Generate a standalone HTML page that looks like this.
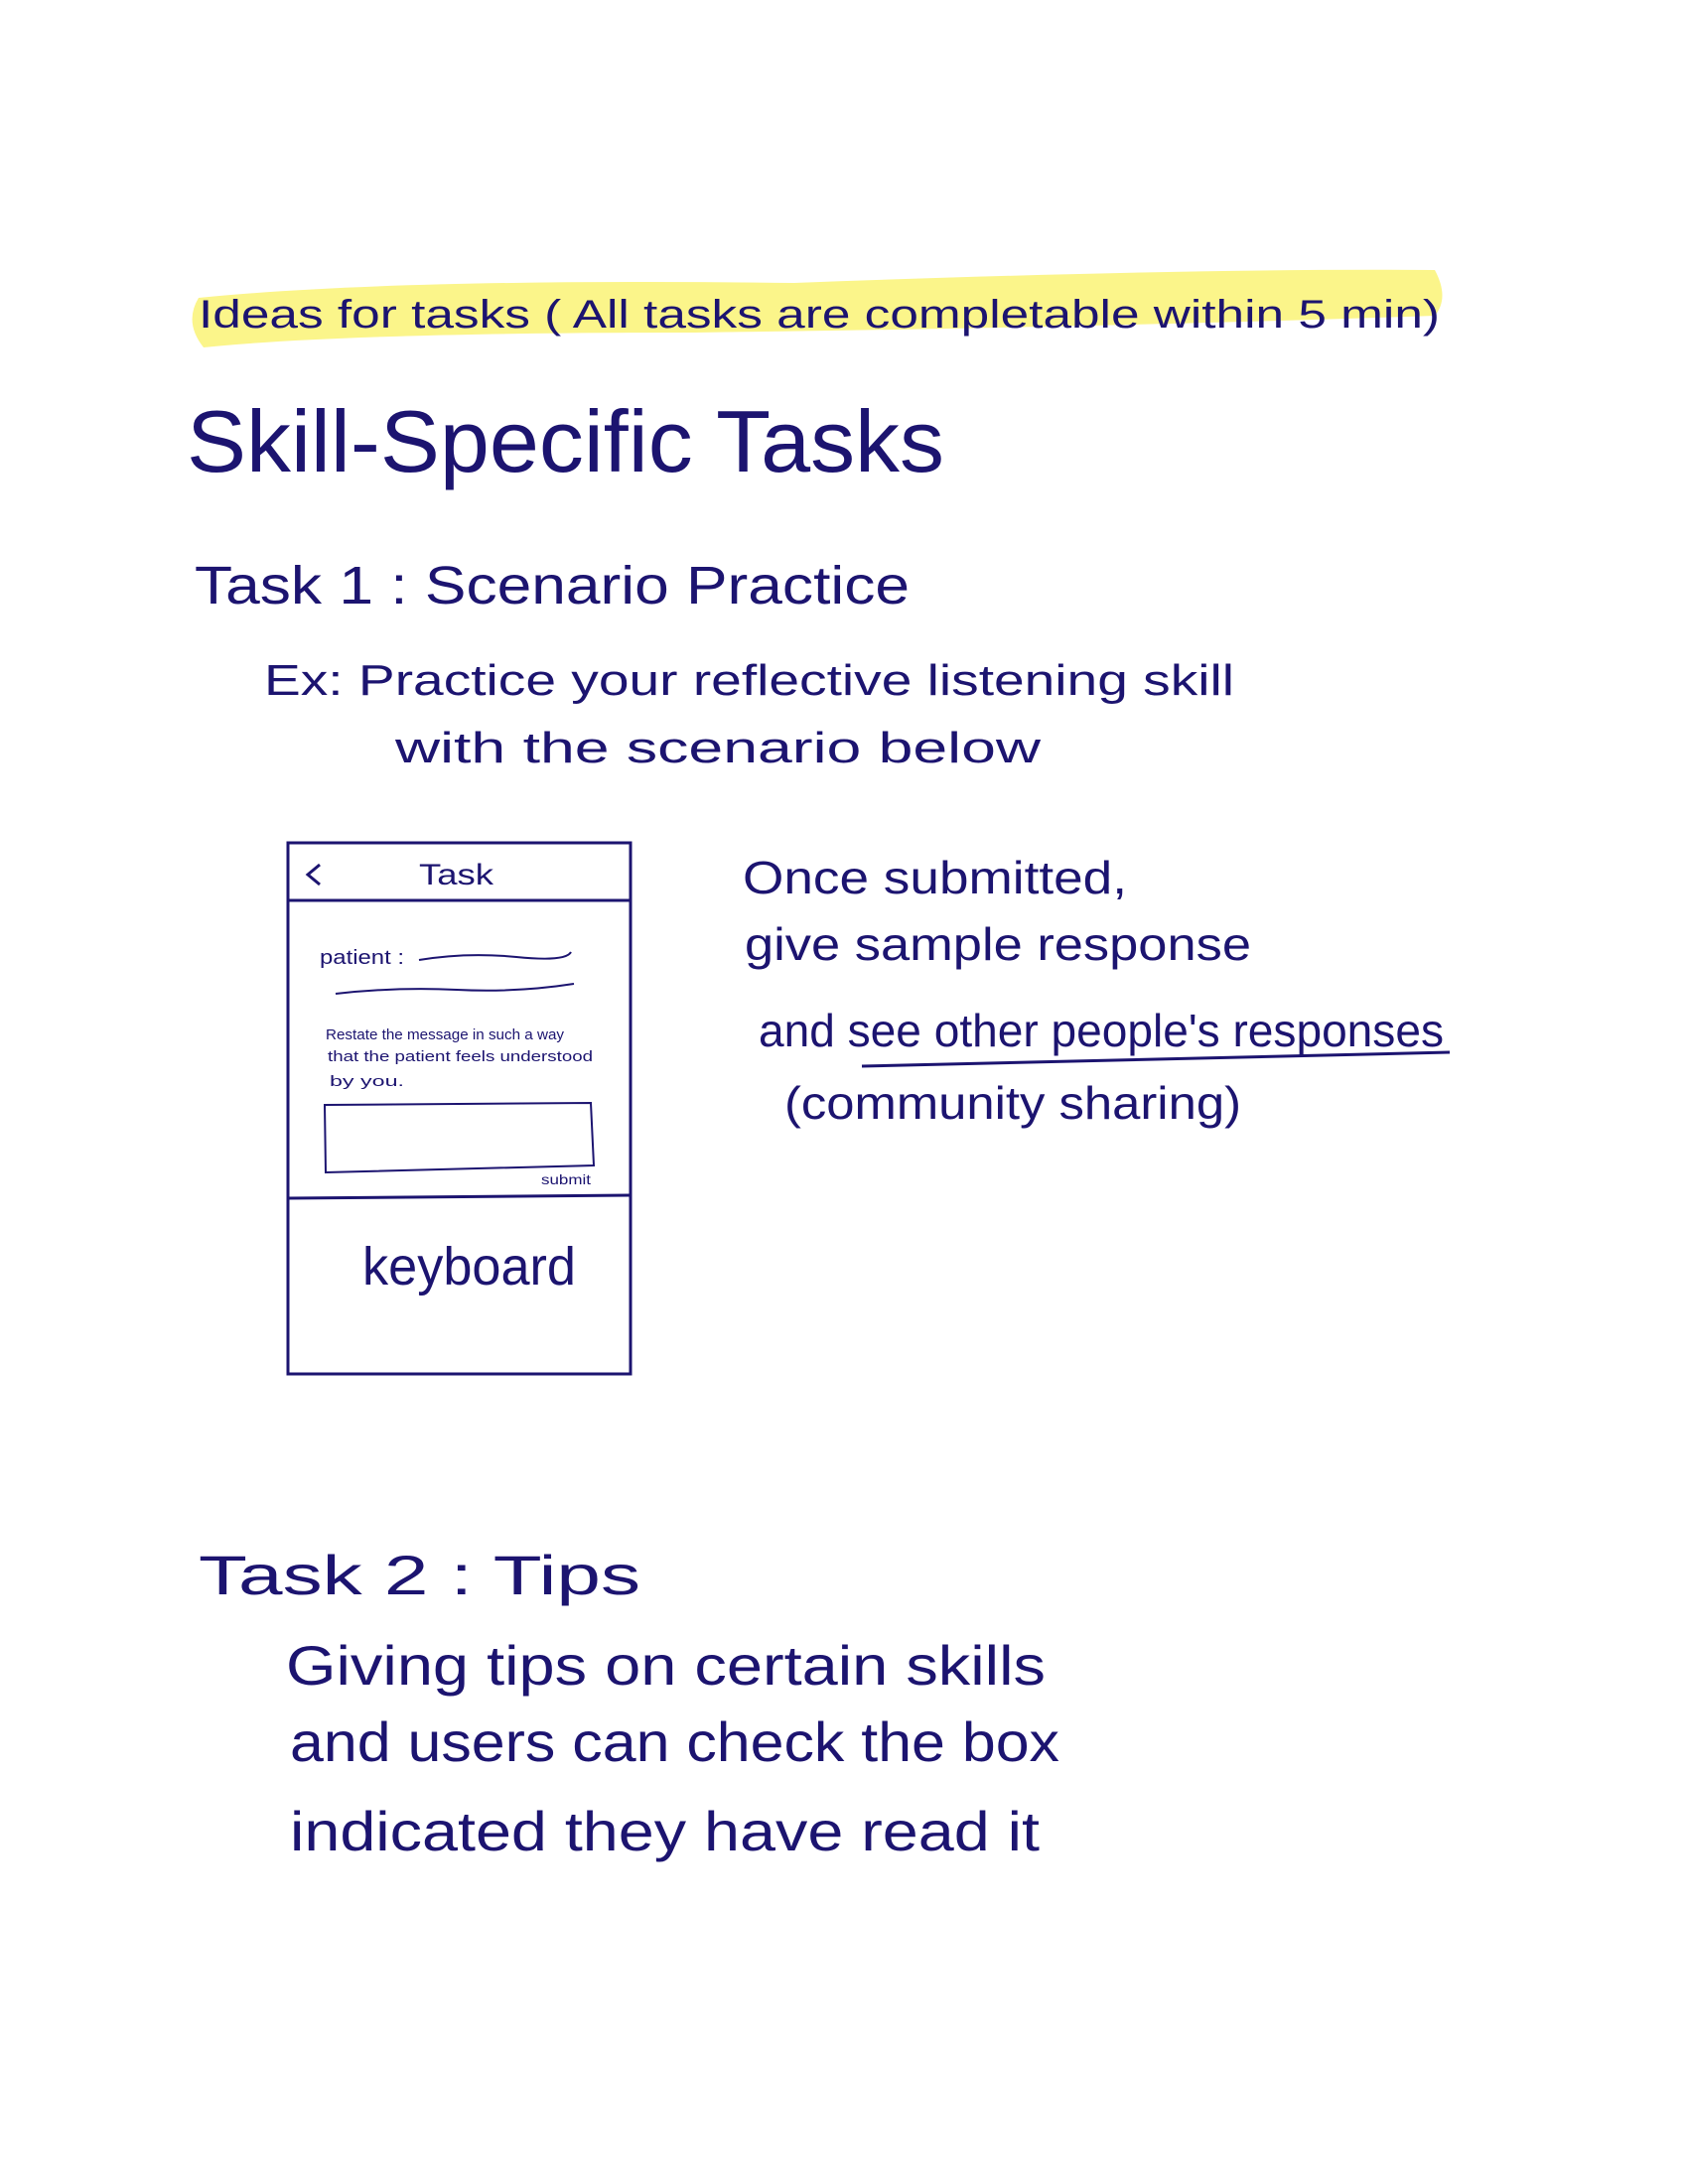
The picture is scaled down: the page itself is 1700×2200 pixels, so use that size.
<!DOCTYPE html>
<html><head><meta charset="utf-8"><style>
html,body{margin:0;padding:0;background:#fff;}
svg{display:block}
text{font-family:"Liberation Sans",sans-serif;fill:#1c1470;}
</style></head><body>
<svg width="1700" height="2200" viewBox="0 0 1700 2200" xmlns="http://www.w3.org/2000/svg">
<path d="M200 300 Q400 280 800 285 Q1200 270 1445 272 Q1460 300 1445 318 Q1100 330 700 335 Q350 335 205 350 Q185 325 200 300 Z" fill="#fbf58a"/>
<text x="200" y="330" font-size="40" textLength="1250" lengthAdjust="spacingAndGlyphs">Ideas for tasks ( All tasks are completable within 5 min)</text>
<text x="188" y="475" font-size="88" textLength="763" lengthAdjust="spacingAndGlyphs">Skill-Specific Tasks</text>
<text x="196" y="608" font-size="54" textLength="720" lengthAdjust="spacingAndGlyphs">Task 1 : Scenario Practice</text>
<text x="266" y="700" font-size="44" textLength="977" lengthAdjust="spacingAndGlyphs">Ex: Practice your reflective listening skill</text>
<text x="398" y="768" font-size="44" textLength="650" lengthAdjust="spacingAndGlyphs">with the scenario below</text>
<g fill="none" stroke="#1c1470" stroke-width="3">
<rect x="290" y="849" width="345" height="535"/>
<line x1="290" y1="907" x2="635" y2="907"/>
<line x1="290" y1="1207" x2="635" y2="1204"/>
<polyline points="322,871 310,881 322,891"/>
<path d="M422 967 Q470 959 520 964 T575 959" stroke-width="2"/>
<path d="M338 1001 Q400 994 460 997 T578 991" stroke-width="2"/>
<path d="M327 1113 L595 1111 L598 1174 L328 1181 Z" stroke-width="2"/>
<line x1="868" y1="1074" x2="1460" y2="1060" stroke-width="3"/>
</g>
<text x="422" y="891" font-size="30" textLength="75" lengthAdjust="spacingAndGlyphs">Task</text>
<text x="322" y="971" font-size="20" textLength="85" lengthAdjust="spacingAndGlyphs">patient :</text>
<text x="328" y="1047" font-size="15" textLength="240" lengthAdjust="spacingAndGlyphs">Restate the message in such a way</text>
<text x="330" y="1069" font-size="15" textLength="267" lengthAdjust="spacingAndGlyphs">that the patient feels understood</text>
<text x="332" y="1094" font-size="15" textLength="75" lengthAdjust="spacingAndGlyphs">by you.</text>
<text x="545" y="1193" font-size="14" textLength="50" lengthAdjust="spacingAndGlyphs">submit</text>
<text x="365" y="1294" font-size="54" textLength="215" lengthAdjust="spacingAndGlyphs">keyboard</text>
<text x="748" y="900" font-size="46" textLength="387" lengthAdjust="spacingAndGlyphs">Once submitted,</text>
<text x="750" y="967" font-size="46" textLength="510" lengthAdjust="spacingAndGlyphs">give sample response</text>
<text x="764" y="1054" font-size="46" textLength="690" lengthAdjust="spacingAndGlyphs">and see other people's responses</text>
<text x="790" y="1127" font-size="46" textLength="460" lengthAdjust="spacingAndGlyphs">(community sharing)</text>
<text x="200" y="1606" font-size="56" textLength="445" lengthAdjust="spacingAndGlyphs">Task 2 : Tips</text>
<text x="288" y="1697" font-size="56" textLength="765" lengthAdjust="spacingAndGlyphs">Giving tips on certain skills</text>
<text x="292" y="1774" font-size="56" textLength="775" lengthAdjust="spacingAndGlyphs">and users can check the box</text>
<text x="292" y="1864" font-size="56" textLength="755" lengthAdjust="spacingAndGlyphs">indicated they have read it</text>
</svg>
</body></html>
